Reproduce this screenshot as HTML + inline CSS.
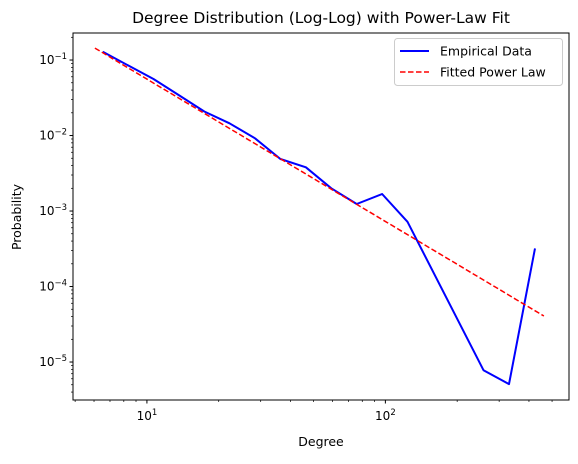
<!DOCTYPE html>
<html><head><meta charset="utf-8"><style>
body{margin:0;background:#fff;width:578px;height:459px;overflow:hidden}
svg text{font-family:"DejaVu Sans","Liberation Sans",sans-serif;fill:#000}
</style></head><body>
<svg id="chart" width="578" height="459" xmlns="http://www.w3.org/2000/svg">
<text x="321" y="23" font-size="15.5" text-anchor="middle">Degree Distribution (Log-Log) with Power-Law Fit</text>
<text x="321" y="446" font-size="12.5" text-anchor="middle">Degree</text>
<text x="0" y="0" font-size="12.5" text-anchor="middle" transform="translate(21,217) rotate(-90)">Probability</text>
<g id="axes"></g>
<g id="plot"></g>
<g>
<rect x="394.5" y="38.5" width="168" height="47" rx="3" fill="#fff" stroke="#ccc"/>
<line x1="400" y1="51" x2="429" y2="51" stroke="#0000ff" stroke-width="2"/>
<text x="440" y="55.5" font-size="12.5">Empirical Data</text>
<line x1="400" y1="72" x2="429" y2="72" stroke="#ff0000" stroke-width="1.5" stroke-dasharray="5.5,2.5"/>
<text x="440" y="76.5" font-size="12.5">Fitted Power Law</text>
</g>
</svg>
<script>
const degrees=[6.53,8.34,10.66,13.6,17.4,22.2,28.4,36.3,46.4,59.3,75.8,96.9,123.8,258,330,424];
const probabilities=[0.129,0.085,0.056,0.0343,0.0208,0.0145,0.0092,0.00489,0.00379,0.0020,0.00124,0.00168,0.00072,7.8e-6,5.1e-6,3.2e-4];
const fitAlpha=1.885;
const fitXmin=6.05;
const fitXmax=462;
const fitYatXmin=0.144;
const xTickLabels=["1","2"];
const yTickLabels=["-1","-2","-3","-4","-5"];

const L=73,R=569,T=33,B=400;
const xlo=0.690,xhi=2.770,ylo=-5.503,yhi=-0.642;
const X=v=>L+(Math.log10(v)-xlo)/(xhi-xlo)*(R-L);
const Y=v=>B-(Math.log10(v)-ylo)/(yhi-ylo)*(B-T);
const NS="http://www.w3.org/2000/svg";
function mk(tag,attrs,parent){const e=document.createElementNS(NS,tag);for(const k in attrs)e.setAttribute(k,attrs[k]);parent.appendChild(e);return e;}
const ax=document.getElementById('axes'),pl=document.getElementById('plot');
for(let e=0;e<=3;e++)for(let m=1;m<10;m++){const v=m*Math.pow(10,e);const lv=Math.log10(v);if(lv<xlo||lv>xhi)continue;const x=X(v);
const t=mk('line',{x1:x,x2:x,y1:B,y2:B+(m==1?3.5:2),stroke:'#000','stroke-width':m==1?1:0.7},ax);

}
for(let e=-6;e<=0;e++)for(let m=1;m<10;m++){const v=m*Math.pow(10,e);const lv=Math.log10(v);if(lv<ylo||lv>yhi)continue;const y=Y(v);
const t=mk('line',{x1:L-(m==1?3.5:2),x2:L,y1:y,y2:y,stroke:'#000','stroke-width':m==1?1:0.7},ax);

}
xTickLabels.forEach(s=>{const x=X(Math.pow(10,+s));const t=mk('text',{x:x,y:B+20,'font-size':12,'text-anchor':'middle'},ax);


t.innerHTML='10<tspan dy="-5" font-size="8.5">'+s+'</tspan>';});
yTickLabels.forEach(s=>{const y=Y(Math.pow(10,+s));const t=mk('text',{x:L-6,y:y+4,'font-size':12,'text-anchor':'end'},ax);


t.innerHTML='10<tspan dy="-5" font-size="8.5">\u2212'+s.slice(1)+'</tspan>';});
const C=fitYatXmin*Math.pow(fitXmin,fitAlpha);
let fp=[];for(let i=0;i<=50;i++){const x=Math.pow(10,Math.log10(fitXmin)+i/50*(Math.log10(fitXmax)-Math.log10(fitXmin)));fp.push(X(x).toFixed(1)+','+Y(C*Math.pow(x,-fitAlpha)).toFixed(1));}
const emp=mk('polyline',{points:degrees.map((d,i)=>X(d).toFixed(1)+','+Y(probabilities[i]).toFixed(1)).join(' '),fill:'none',stroke:'#0000ff','stroke-width':2,'stroke-linejoin':'round'},pl);


const fit=mk('polyline',{points:fp.join(' '),fill:'none',stroke:'#ff0000','stroke-width':1.5,'stroke-dasharray':'5.5,2.5'},pl);


const fr=mk('rect',{x:L,y:T,width:R-L,height:B-T,fill:'none',stroke:'#000','stroke-width':1},ax);


</script>
</body></html>
